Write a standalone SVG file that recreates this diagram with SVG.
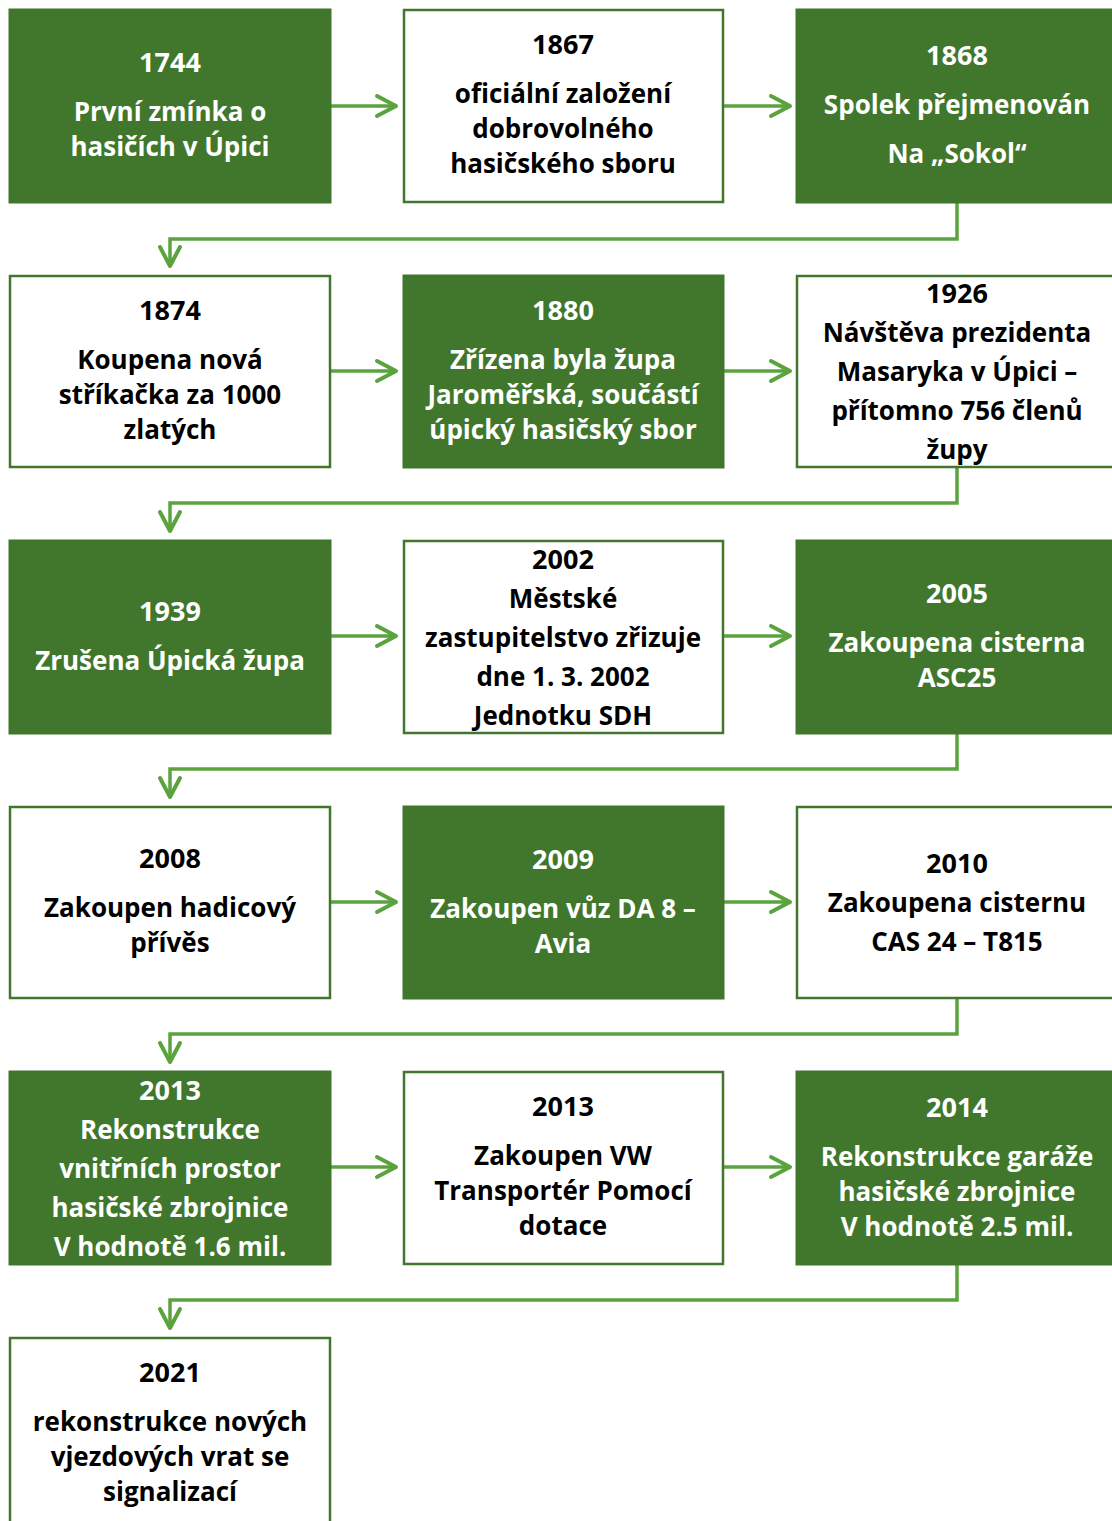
<svg xmlns="http://www.w3.org/2000/svg" width="1112" height="1521" viewBox="0 0 1112 1521">
<defs>
<style>
.g{fill:#41772c;stroke:#41772c;stroke-width:1}
.w{fill:#ffffff;stroke:#41772c;stroke-width:2.5}
text{font-family:"Open Sans","Liberation Sans",sans-serif;font-weight:bold;font-size:26px;text-anchor:middle}
.yr{font-size:27px}
.tg{fill:#ffffff}
.tw{fill:#000000}
.c{fill:none;stroke:#5aa33e;stroke-width:3.5;marker-end:url(#ah)}
</style>
<marker id="ah" markerUnits="userSpaceOnUse" markerWidth="30" markerHeight="30" refX="22" refY="12" orient="auto" overflow="visible">
<path d="M3,2 L22,12 L3,22" fill="none" stroke="#5aa33e" stroke-width="4" stroke-linecap="round" stroke-linejoin="round"/>
</marker>
</defs>
<rect width="1112" height="1521" fill="#ffffff"/>
<g id="connectors">
<path class="c" d="M331,106 H396"/>
<path class="c" d="M724,106 H790"/>
<path class="c" d="M957,203 V239 H170 V266"/>
<path class="c" d="M331,371 H396"/>
<path class="c" d="M724,371 H790"/>
<path class="c" d="M957,467 V503 H170 V531"/>
<path class="c" d="M331,636 H396"/>
<path class="c" d="M724,636 H790"/>
<path class="c" d="M957,733 V769 H170 V797"/>
<path class="c" d="M331,902 H396"/>
<path class="c" d="M724,902 H790"/>
<path class="c" d="M957,998 V1034 H170 V1062"/>
<path class="c" d="M331,1167 H396"/>
<path class="c" d="M724,1167 H790"/>
<path class="c" d="M957,1264 V1300 H170 V1328"/>
</g>
<g id="n1744"><rect class="g" x="9" y="9" width="322" height="194"/>
<text class="tg yr" x="170" y="72">1744</text><text class="tg" x="170" y="121">První zmínka o</text><text class="tg" x="170" y="156">hasičích v Úpici</text></g>
<g id="n1867"><rect class="w" x="404" y="10" width="319" height="192"/>
<text class="tw yr" x="563" y="54">1867</text><text class="tw" x="563" y="103">oficiální založení</text><text class="tw" x="563" y="138">dobrovolného</text><text class="tw" x="563" y="173">hasičského sboru</text></g>
<g id="n1868"><rect class="g" x="796" y="9" width="322" height="194"/>
<text class="tg yr" x="957" y="65">1868</text><text class="tg" x="957" y="114">Spolek přejmenován</text><text class="tg" x="957" y="163">Na „Sokol“</text></g>

<g id="n1874"><rect class="w" x="10" y="276" width="320" height="191"/>
<text class="tw yr" x="170" y="320">1874</text><text class="tw" x="170" y="369">Koupena nová</text><text class="tw" x="170" y="404">stříkačka za 1000</text><text class="tw" x="170" y="439">zlatých</text></g>
<g id="n1880"><rect class="g" x="403" y="275" width="321" height="193"/>
<text class="tg yr" x="563" y="320">1880</text><text class="tg" x="563" y="369">Zřízena byla župa</text><text class="tg" x="563" y="404">Jaroměřská, součástí</text><text class="tg" x="563" y="439">úpický hasičský sbor</text></g>
<g id="n1926"><rect class="w" x="797" y="276" width="325" height="191"/>
<text class="tw yr" x="957" y="303">1926</text><text class="tw" x="957" y="342">Návštěva prezidenta</text><text class="tw" x="957" y="381">Masaryka v Úpici –</text><text class="tw" x="957" y="420">přítomno 756 členů</text><text class="tw" x="957" y="459">župy</text></g>

<g id="n1939"><rect class="g" x="9" y="540" width="322" height="194"/>
<text class="tg yr" x="170" y="621">1939</text><text class="tg" x="170" y="670">Zrušena Úpická župa</text></g>
<g id="n2002"><rect class="w" x="404" y="541" width="319" height="192"/>
<text class="tw yr" x="563" y="569">2002</text><text class="tw" x="563" y="608">Městské</text><text class="tw" x="563" y="647">zastupitelstvo zřizuje</text><text class="tw" x="563" y="686">dne 1. 3. 2002</text><text class="tw" x="563" y="725">Jednotku SDH</text></g>
<g id="n2005"><rect class="g" x="796" y="540" width="322" height="194"/>
<text class="tg yr" x="957" y="603">2005</text><text class="tg" x="957" y="652">Zakoupena cisterna</text><text class="tg" x="957" y="687">ASC25</text></g>

<g id="n2008"><rect class="w" x="10" y="807" width="320" height="191"/>
<text class="tw yr" x="170" y="868">2008</text><text class="tw" x="170" y="917">Zakoupen hadicový</text><text class="tw" x="170" y="952">přívěs</text></g>
<g id="n2009"><rect class="g" x="403" y="806" width="321" height="193"/>
<text class="tg yr" x="563" y="869">2009</text><text class="tg" x="563" y="918">Zakoupen vůz DA 8 –</text><text class="tg" x="563" y="953">Avia</text></g>
<g id="n2010"><rect class="w" x="797" y="807" width="325" height="191"/>
<text class="tw yr" x="957" y="873">2010</text><text class="tw" x="957" y="912">Zakoupena cisternu</text><text class="tw" x="957" y="951">CAS 24 – T815</text></g>

<g id="n2013a"><rect class="g" x="9" y="1071" width="322" height="194"/>
<text class="tg yr" x="170" y="1100">2013</text><text class="tg" x="170" y="1139">Rekonstrukce</text><text class="tg" x="170" y="1178">vnitřních prostor</text><text class="tg" x="170" y="1217">hasičské zbrojnice</text><text class="tg" x="170" y="1256">V hodnotě 1.6 mil.</text></g>
<g id="n2013b"><rect class="w" x="404" y="1072" width="319" height="192"/>
<text class="tw yr" x="563" y="1116">2013</text><text class="tw" x="563" y="1165">Zakoupen VW</text><text class="tw" x="563" y="1200">Transportér Pomocí</text><text class="tw" x="563" y="1235">dotace</text></g>
<g id="n2014"><rect class="g" x="796" y="1071" width="322" height="194"/>
<text class="tg yr" x="957" y="1117">2014</text><text class="tg" x="957" y="1166">Rekonstrukce garáže</text><text class="tg" x="957" y="1201">hasičské zbrojnice</text><text class="tg" x="957" y="1236">V hodnotě 2.5 mil.</text></g>

<g id="n2021"><rect class="w" x="10" y="1338" width="320" height="200"/>
<text class="tw yr" x="170" y="1382">2021</text><text class="tw" x="170" y="1431">rekonstrukce nových</text><text class="tw" x="170" y="1466">vjezdových vrat se</text><text class="tw" x="170" y="1501">signalizací</text></g>
</svg>
